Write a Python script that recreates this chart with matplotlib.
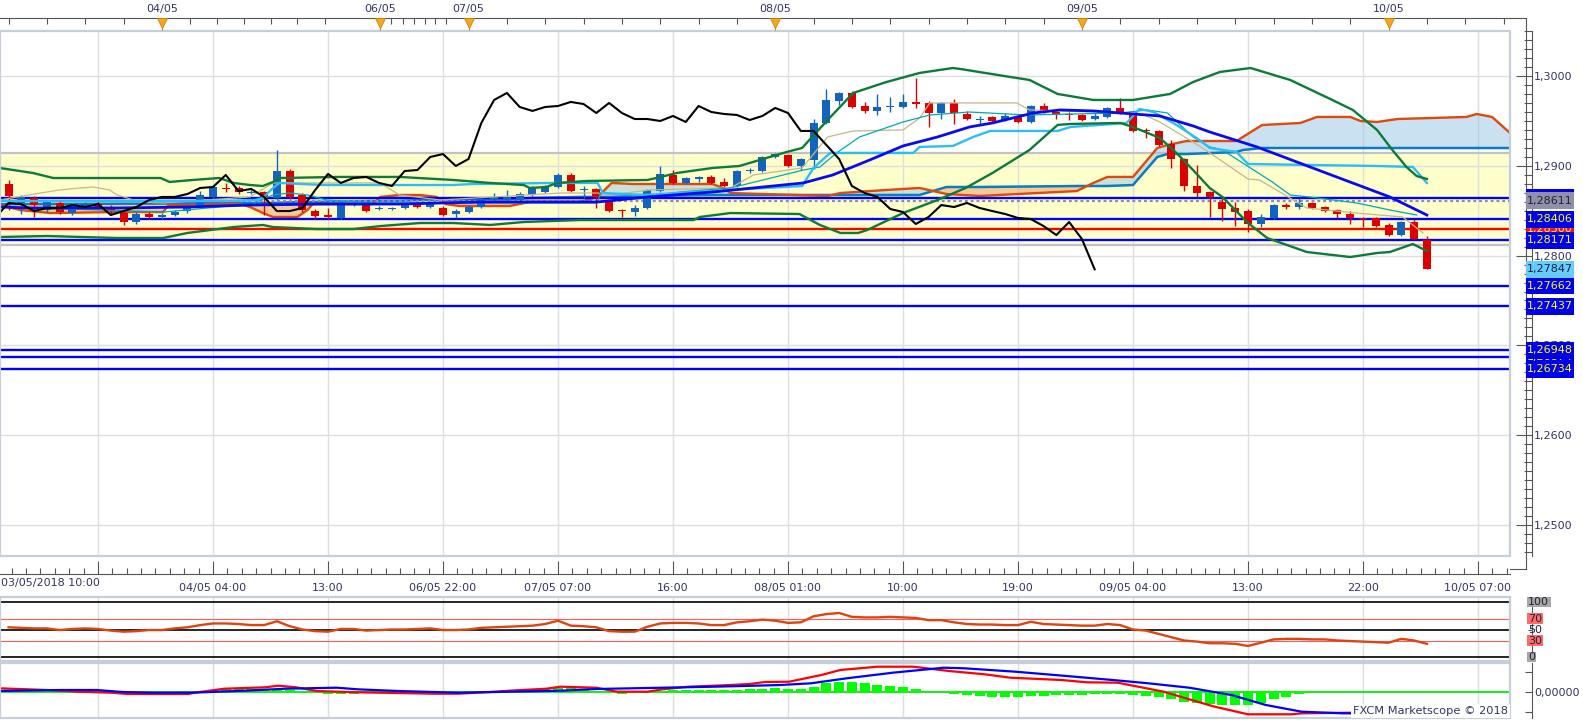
import numpy as np
import matplotlib
matplotlib.use("Agg")
import matplotlib.pyplot as plt
import matplotlib.transforms as mtransforms
from matplotlib.patches import Rectangle
from matplotlib.ticker import FixedLocator, FixedFormatter, MultipleLocator, FuncFormatter

plt.rcParams['font.family'] = ['DejaVu Sans']

# ---------------- data ----------------
bar_index = np.arange(-16, 96)          # hourly bars, 0 = 04/05 04:00

opens = np.array([
    1.28797, 1.28586, 1.28642, 1.28508, 1.28586, 1.28474, 1.28541, 1.28574, 1.28541, 1.28474,
    1.28374, 1.28463, 1.28430, 1.28452, 1.28496, 1.28552,
    1.28653, 1.28753, 1.28753, 1.28697, 1.28708, 1.28642, 1.28942, 1.28675, 1.28496, 1.28452,
    1.28419, 1.28563, 1.28563, 1.28519, 1.28519, 1.28530, 1.28574, 1.28541, 1.28530, 1.28463,
    1.28485, 1.28541, 1.28619, 1.28630, 1.28619, 1.28675, 1.28708, 1.28764, 1.28898, 1.28731,
    1.28742, 1.28608, 1.28508, 1.28485, 1.28530, 1.28719, 1.28898, 1.28809, 1.28853, 1.28876,
    1.28820, 1.28775, 1.28942, 1.28942, 1.29098, 1.29120, 1.28998, 1.29065, 1.29477, 1.29722,
    1.29811, 1.29666, 1.29611, 1.29655, 1.29655, 1.29711, 1.29700, 1.29588, 1.29700, 1.29577,
    1.29510, 1.29544, 1.29510, 1.29544, 1.29488, 1.29666, 1.29599, 1.29577, 1.29566, 1.29521,
    1.29544, 1.29644, 1.29566, 1.29399, 1.29388, 1.29243, 1.29076, 1.28775, 1.28708, 1.28597,
    1.28530, 1.28496, 1.28352, 1.28419, 1.28563, 1.28541, 1.28586, 1.28541, 1.28508, 1.28463,
    1.28419, 1.28419, 1.28341, 1.28229, 1.28374, 1.28174])
highs = np.array([
    1.28842, 1.28675, 1.28664, 1.28619, 1.28608, 1.28574, 1.28597, 1.28608, 1.28563, 1.28496,
    1.28485, 1.28485, 1.28474, 1.28508, 1.28574, 1.28719,
    1.28786, 1.28809, 1.28775, 1.28731, 1.28719, 1.29176, 1.28964, 1.28697, 1.28519, 1.28530,
    1.28608, 1.28597, 1.28586, 1.28552, 1.28541, 1.28586, 1.28597, 1.28597, 1.28552, 1.28519,
    1.28563, 1.28642, 1.28697, 1.28731, 1.28708, 1.28775, 1.28786, 1.28920, 1.28920, 1.28775,
    1.28753, 1.28630, 1.28519, 1.28563, 1.28742, 1.28998, 1.28953, 1.28876, 1.28886, 1.28898,
    1.28864, 1.28953, 1.28976, 1.29109, 1.29143, 1.29131, 1.29087, 1.29521, 1.29855, 1.29822,
    1.29833, 1.29711, 1.29800, 1.29766, 1.29800, 1.29978, 1.29722, 1.29711, 1.29744, 1.29611,
    1.29555, 1.29555, 1.29588, 1.29555, 1.29677, 1.29700, 1.29611, 1.29599, 1.29577, 1.29588,
    1.29655, 1.29755, 1.29577, 1.29421, 1.29399, 1.29288, 1.29087, 1.29009, 1.28719, 1.28664,
    1.28597, 1.28519, 1.28463, 1.28574, 1.28586, 1.28642, 1.28597, 1.28552, 1.28519, 1.28496,
    1.28430, 1.28430, 1.28363, 1.28385, 1.28407, 1.28218])
lows = np.array([
    1.28508, 1.28463, 1.28430, 1.28485, 1.28463, 1.28452, 1.28519, 1.28519, 1.28463, 1.28341,
    1.28352, 1.28407, 1.28407, 1.28441, 1.28474, 1.28530,
    1.28630, 1.28708, 1.28686, 1.28686, 1.28452, 1.28619, 1.28630, 1.28485, 1.28407, 1.28407,
    1.28407, 1.28552, 1.28485, 1.28508, 1.28508, 1.28519, 1.28530, 1.28530, 1.28441, 1.28419,
    1.28474, 1.28530, 1.28608, 1.28597, 1.28608, 1.28664, 1.28697, 1.28753, 1.28708, 1.28642,
    1.28530, 1.28485, 1.28430, 1.28441, 1.28519, 1.28708, 1.28797, 1.28797, 1.28820, 1.28797,
    1.28764, 1.28764, 1.28920, 1.28931, 1.29087, 1.28987, 1.28953, 1.28964, 1.29466, 1.29677,
    1.29644, 1.29588, 1.29566, 1.29599, 1.29644, 1.29644, 1.29432, 1.29521, 1.29466, 1.29510,
    1.29455, 1.29488, 1.29499, 1.29477, 1.29477, 1.29588, 1.29521, 1.29510, 1.29499, 1.29510,
    1.29533, 1.29577, 1.29377, 1.29310, 1.29221, 1.28976, 1.28719, 1.28653, 1.28430, 1.28385,
    1.28329, 1.28263, 1.28318, 1.28407, 1.28519, 1.28519, 1.28519, 1.28485, 1.28419, 1.28352,
    1.28318, 1.28318, 1.28218, 1.28218, 1.28174, 1.27847])
closes = np.array([
    1.28664, 1.28653, 1.28563, 1.28597, 1.28485, 1.28552, 1.28574, 1.28541, 1.28496, 1.28374,
    1.28463, 1.28430, 1.28452, 1.28485, 1.28552, 1.28675,
    1.28764, 1.28742, 1.28708, 1.28708, 1.28653, 1.28942, 1.28653, 1.28508, 1.28441, 1.28430,
    1.28586, 1.28574, 1.28496, 1.28530, 1.28530, 1.28563, 1.28541, 1.28574, 1.28452, 1.28496,
    1.28541, 1.28619, 1.28653, 1.28653, 1.28686, 1.28753, 1.28764, 1.28898, 1.28719, 1.28742,
    1.28653, 1.28496, 1.28496, 1.28530, 1.28731, 1.28909, 1.28809, 1.28864, 1.28876, 1.28809,
    1.28775, 1.28942, 1.28953, 1.29098, 1.29131, 1.28998, 1.29076, 1.29477, 1.29733, 1.29811,
    1.29655, 1.29611, 1.29655, 1.29666, 1.29711, 1.29688, 1.29588, 1.29700, 1.29588, 1.29521,
    1.29521, 1.29499, 1.29555, 1.29488, 1.29666, 1.29599, 1.29577, 1.29566, 1.29510, 1.29555,
    1.29644, 1.29588, 1.29388, 1.29388, 1.29232, 1.29076, 1.28775, 1.28697, 1.28653, 1.28519,
    1.28485, 1.28352, 1.28430, 1.28563, 1.28541, 1.28586, 1.28530, 1.28496, 1.28463, 1.28419,
    1.28407, 1.28329, 1.28229, 1.28374, 1.28185, 1.27847])
chikou_shift = 26

# Bollinger bands and middle average
bb_up_x = [-16.7, -14.1, -12.5, -4.1, -3.4, -1.6, 0.5, 1.6, 2.9, 3.9, 4.7, 5.2, 9.9, 14.6, 18.8, 21.7,
           24.3, 24.8, 26.1, 26.9, 29.3, 34.0, 34.7, 36.3, 39.1, 41.2, 44.9, 46.1, 48.1, 50.1, 52.7,
           55.3, 57.9, 58.5, 62.4, 63.9, 66.1, 68.9, 72.0, 74.9, 76.7, 78.8, 81.2, 84.3, 87.6, 89.2,
           91.1, 92.3, 93.4, 94.2, 95.0]
bb_up_y = [1.28976, 1.28920, 1.28864, 1.28864, 1.28820, 1.28842, 1.28864, 1.28809, 1.28786, 1.28775,
           1.28820, 1.28864, 1.28876, 1.28876, 1.28842, 1.28809, 1.28786, 1.28753, 1.28764, 1.28809,
           1.28831, 1.28842, 1.28864, 1.28920, 1.28976, 1.28998, 1.29154, 1.29198, 1.29510, 1.29811,
           1.29933, 1.30034, 1.30089, 1.30078, 1.29989, 1.29956, 1.29800, 1.29733, 1.29733, 1.29800,
           1.29933, 1.30045, 1.30089, 1.29956, 1.29733, 1.29622, 1.29399, 1.29176, 1.28987, 1.28886,
           1.28853]
bb_lo_x = [-16.7, -13.0, -7.5, -3.9, -2.0, 1.6, 3.9, 4.7, 8.1, 11.0, 13.1, 16.2, 18.8, 21.7, 24.3, 28.7,
           37.6, 38.1, 40.5, 45.9, 47.5, 49.1, 50.5, 51.2, 54.0, 56.7, 58.9, 61.0, 63.9, 66.1, 67.1,
           71.0, 72.0, 74.1, 75.4, 76.7, 78.0, 79.0, 81.0, 82.5, 85.6, 89.0, 91.1, 92.1, 93.9, 95.0]
bb_lo_y = [1.28207, 1.28218, 1.28196, 1.28196, 1.28252, 1.28318, 1.28341, 1.28318, 1.28296, 1.28296,
           1.28329, 1.28363, 1.28363, 1.28341, 1.28374, 1.28396, 1.28396, 1.28430, 1.28474, 1.28463,
           1.28341, 1.28252, 1.28252, 1.28285, 1.28474, 1.28619, 1.28753, 1.28920, 1.29176, 1.29455,
           1.29466, 1.29477, 1.29432, 1.29310, 1.29143, 1.28953, 1.28753, 1.28653, 1.28363, 1.28196,
           1.28040, 1.27984, 1.28029, 1.28040, 1.28129, 1.28051]
ma_x = [-16.7, -14.1, -7.5, -2.0, 2.9, 8.4, 14.6, 20.9, 30.1, 34.0, 39.1, 46.2, 48.5, 51.4, 54.0, 56.7,
        59.2, 61.0, 64.2, 66.3, 68.9, 71.0, 74.1, 76.7, 78.0, 81.7, 86.9, 92.1, 95.0]
ma_y = [1.28541, 1.28530, 1.28530, 1.28541, 1.28563, 1.28574, 1.28574, 1.28597, 1.28597, 1.28653,
        1.28708, 1.28809, 1.28898, 1.29065, 1.29221, 1.29321, 1.29432, 1.29477, 1.29588, 1.29622,
        1.29611, 1.29588, 1.29555, 1.29444, 1.29377, 1.29210, 1.28931, 1.28653, 1.28452]

# Ichimoku lines
kijun_x = [-16.7, 1.3, 3.3, 3.9, 4.7, 5.2, 8.6, 18.8, 20.3, 26.6, 30.1, 30.5, 33.7, 36.5, 40.5, 46.1,
           47.0, 48.3, 54.8, 55.3, 57.9, 59.5, 60.8, 66.1, 67.1, 71.5, 72.5, 73.6, 75.4, 77.2, 78.0,
           80.1, 81.0, 91.1, 93.9, 95.0]
kijun_y = [1.28608, 1.28608, 1.28619, 1.28642, 1.28753, 1.28809, 1.28786, 1.28786, 1.28797, 1.28809,
           1.28809, 1.28697, 1.28675, 1.28697, 1.28731, 1.28775, 1.28976, 1.29143, 1.29143, 1.29210,
           1.29221, 1.29321, 1.29388, 1.29388, 1.29432, 1.29477, 1.29633, 1.29599, 1.29455, 1.29288,
           1.29198, 1.29154, 1.29020, 1.28998, 1.28987, 1.28809]
tenkan_x = [-16.7, -8.8, -3.9, 1.3, 2.9, 3.7, 4.7, 6.0, 7.4, 8.9, 12.5, 20.9, 30.1, 30.3, 34.0, 36.5,
            40.5, 46.2, 47.5, 48.8, 50.6, 54.0, 56.1, 59.2, 63.7, 71.0, 73.1, 74.7, 76.7, 78.0, 79.0,
            82.9, 84.3, 85.8, 89.5, 92.1, 94.2]
tenkan_y = [1.28541, 1.28508, 1.28485, 1.28552, 1.28563, 1.28619, 1.28675, 1.28697, 1.28675, 1.28619,
            1.28586, 1.28586, 1.28586, 1.28697, 1.28664, 1.28708, 1.28753, 1.28953, 1.28987, 1.29143,
            1.29321, 1.29488, 1.29566, 1.29599, 1.29566, 1.29588, 1.29622, 1.29588, 1.29321, 1.29210,
            1.29176, 1.28820, 1.28675, 1.28653, 1.28586, 1.28508, 1.28452]
tan_x = [-16.7, -13.5, -12.0, -10.4, -9.4, -8.1, -7.5, -5.7, -3.9, 2.9, 4.7, 13.1, 14.6, 17.8, 27.2,
         30.1, 31.1, 34.2, 40.5, 42.3, 46.1, 48.1, 50.1, 54.0, 55.3, 56.1, 62.9, 63.9, 71.5, 72.9,
         74.1, 76.7, 78.6, 81.0, 81.9, 85.6, 89.5, 93.1, 94.7]
tan_y = [1.28619, 1.28697, 1.28731, 1.28753, 1.28764, 1.28731, 1.28675, 1.28597, 1.28586, 1.28653,
         1.28809, 1.28809, 1.28675, 1.28619, 1.28697, 1.28697, 1.28675, 1.28731, 1.28753, 1.28898,
         1.28976, 1.29321, 1.29388, 1.29399, 1.29532, 1.29700, 1.29700, 1.29622, 1.29588, 1.29566,
         1.29488, 1.29265, 1.29087, 1.28853, 1.28842, 1.28530, 1.28474, 1.28430, 1.28252]
cloud_x = np.array([-16.7, -15.1, -12.7, -7.5, -3.9, -3.5, 2.1, 2.9, 3.9, 4.7, 6.6, 7.4, 7.8, 12.5,
                    13.1, 14.6, 16.2, 17.5, 18.2, 19.3, 23.2, 24.8, 28.7, 30.1, 31.2, 32.9, 39.1,
                    39.9, 40.5, 48.1, 49.1, 52.7, 55.3, 57.4, 60.0, 67.6, 68.9, 70.0, 72.0, 73.9,
                    74.7, 76.2, 80.1, 80.6, 82.1, 85.1, 86.4, 89.0, 89.8, 91.1, 92.7, 98.1, 98.9,
                    100.1, 101.5])
span_a = np.array([1.28563, 1.28508, 1.28474, 1.28485, 1.28485, 1.28563, 1.28574, 1.28541, 1.28474,
                   1.28430, 1.28430, 1.28508, 1.28574, 1.28574, 1.28653, 1.28675, 1.28675, 1.28653,
                   1.28574, 1.28552, 1.28552, 1.28597, 1.28597, 1.28653, 1.28809, 1.28797, 1.28797,
                   1.28753, 1.28697, 1.28664, 1.28697, 1.28731, 1.28753, 1.28686, 1.28664, 1.28719,
                   1.28809, 1.28876, 1.28876, 1.29198, 1.29232, 1.29276, 1.29276, 1.29321, 1.29454,
                   1.29477, 1.29544, 1.29544, 1.29499, 1.29488, 1.29521, 1.29544, 1.29577, 1.29544,
                   1.29366])
span_b = np.array([1.28574, 1.28574, 1.28575, 1.28578, 1.28580, 1.28580, 1.28586, 1.28586, 1.28586,
                   1.28586, 1.28597, 1.28597, 1.28597, 1.28608, 1.28608, 1.28608, 1.28619, 1.28619,
                   1.28619, 1.28619, 1.28630, 1.28642, 1.28653, 1.28653, 1.28653, 1.28664, 1.28675,
                   1.28675, 1.28675, 1.28675, 1.28675, 1.28675, 1.28675, 1.28764, 1.28764, 1.28775,
                   1.28775, 1.28775, 1.28786, 1.29098, 1.29131, 1.29131, 1.29154, 1.29176, 1.29198,
                   1.29198, 1.29198, 1.29198, 1.29198, 1.29198, 1.29198, 1.29198, 1.29198, 1.29198,
                   1.29198])

# horizontal levels
zone_low, zone_high = 1.28115, 1.29142
blue_levels = [1.28645, 1.28406, 1.28171, 1.27662, 1.27437, 1.26948, 1.26874, 1.26734]
red_level = 1.28300
pivot_level = 1.28611

# RSI (one value per bar)
rsi = [54, 53, 52, 52, 49, 51, 52, 51, 48, 46, 47, 49, 49, 52, 54, 58,
       61, 61, 60, 58, 58, 65, 56, 50, 47, 46, 51, 51, 48, 49, 50, 50, 51, 52, 49, 49,
       50, 53, 54, 55, 56, 57, 60, 66, 57, 56, 54, 47, 46, 46, 55, 61, 62, 62, 61, 58,
       58, 63, 65, 68, 66, 62, 63, 74, 78, 80, 73, 72, 72, 73, 72, 71, 67, 67, 63, 60,
       59, 59, 58, 58, 64, 60, 59, 58, 57, 57, 60, 58, 50, 48, 42, 36, 30, 28, 25, 25,
       24, 20, 26, 32, 33, 33, 32, 32, 30, 29, 28, 27, 26, 33, 30, 24]

# MACD
macd_x = [-16.7, -13.0, -10.6, -7.9, -6.7, -1.9, -1.5, 0.9, 4.1, 5.1, 6.5, 8.1, 11.3, 17.3, 19.2, 22.1,
          23.2, 26.1, 27.2, 30.0, 31.6, 34.0, 35.2, 37.2, 40.0, 42.0, 43.2, 45.1, 47.6, 49.1, 52.0,
          54.8, 57.6, 60.4, 62.4, 66.4, 68.4, 70.8, 72.4, 74.4, 76.4, 78.4, 81.0, 84.4, 85.2, 89.2, 95.0]
macd_v = [0.00040, 0.00023, 0.00006, -0.00004, -0.00017, -0.00017, -0.00005, 0.00036, 0.00050,
          0.00066, 0.00050, 0.00013, 0.00000, -0.00014, -0.00014, 0.00006, 0.00016, 0.00036, 0.00056,
          0.00046, 0.00006, 0.00006, 0.00030, 0.00056, 0.00070, 0.00083, 0.00103, 0.00106, 0.00173,
          0.00223, 0.00256, 0.00256, 0.00213, 0.00180, 0.00146, 0.00123, 0.00100, 0.00096, 0.00056,
          0.00006, -0.00070, -0.00144, -0.00220, -0.00220, -0.00210, -0.00204, -0.00206]
signal_x = [-16.7, -11.9, -9.1, -7.1, -4.7, -1.5, 2.5, 5.7, 9.7, 11.3, 14.5, 19.2, 23.2, 27.2, 30.0,
            35.2, 39.2, 42.4, 44.4, 46.8, 49.6, 53.2, 57.2, 58.8, 62.8, 66.8, 70.4, 73.2, 76.4, 79.7,
            82.4, 85.2, 88.4, 95.0]
signal_v = [0.00013, 0.00023, 0.00023, 0.00003, -0.00004, -0.00003, 0.00016, 0.00036, 0.00046,
            0.00030, 0.00013, -0.00004, 0.00006, 0.00016, 0.00033, 0.00046, 0.00056, 0.00066, 0.00073,
            0.00090, 0.00140, 0.00196, 0.00246, 0.00240, 0.00206, 0.00163, 0.00123, 0.00090, 0.00046,
            -0.00027, -0.00127, -0.00194, -0.00210, -0.00213]
hist = np.array([1.5, 1, 0.5, 0.3, 0, -0.3, -0.5, -1, -1, -0.8, -0.8, -0.6, -0.5, -0.3, 0.8, 1.5,
                 2.5, 4, 3, 3.3, 3.3, 3.5, 2.5, 1, -1, -1.7, -2, -1.5, -1, -0.8, -0.5, -0.3, 0,
                 -0.3, -0.5, -0.3, 0, 0.3, 0.6, 0.9, 1.5, 2.2, 3, 4, 4.7, 2.5, 1, -1, -1.3, -1, 0,
                 1.5, 2, 2, 2.2, 2.3, 2.5, 2.5, 3, 3.5, 4.7, 3, 3.7, 5.7, 9, 10.7, 10, 9, 7.3, 6.7,
                 5.7, 3, 1.3, 0, -1.7, -2.7, -3.3, -4.3, -4.3, -4.3, -3.3, -3.3, -2.7, -2.7, -2.7,
                 -2, -1.7, -2, -2.7, -3.7, -4.3, -6.7, -9.3, -11, -12, -12.7, -12.7, -12.7, -11, -7,
                 -5, -2, -0.5, 0.3, 0.7, 0.7, 0.7, 0.7, 0.3, 0.7, 0.3, -1]) * 1e-4

# time axis
time_labels = ['', '04/05 04:00', '13:00', '06/05 22:00', '07/05 07:00', '16:00', '08/05 01:00',
               '10:00', '19:00', '09/05 04:00', '13:00', '22:00', '10/05 07:00']
first_time_label = '03/05/2018 10:00'
day_labels = ['04/05', '06/05', '07/05', '08/05', '09/05', '10/05']
day_pos = [-4, 13.1, 20, 44, 68, 92]

# ---------------- layout ----------------
W, H, DPI = 1583, 720, 100
fig = plt.figure(figsize=(W / DPI, H / DPI), dpi=DPI)
fig.patch.set_facecolor('white')

PPB = 115 / 9.0
XMIN = -213 / PPB
XMAX = XMIN + 1510 / PPB
major_pos = [-9 + 9 * k for k in range(len(time_labels))]
TXT = '#333366'
AXC = '#555555'
BORDER = '#C6CED9'
GRID = '#DEDEDE'


def add_ax(x0, y0, x1, y1, **kw):
    return fig.add_axes([x0 / W, 1 - y1 / H, (x1 - x0) / W, (y1 - y0) / H], **kw)


def framed(a):
    for s in a.spines.values():
        s.set_visible(False)
    a.add_patch(Rectangle((0, 0), 1, 1, transform=a.transAxes, fill=False, ec=BORDER,
                          lw=1.6, clip_on=False, zorder=9))
    a.set_xlim(XMIN, XMAX)
    for p in major_pos:
        a.axvline(p, color=GRID, lw=1, zorder=0.6)


# ---- main price panel ----
ax = add_ax(0, 31, 1510, 556)
framed(ax)
ax.set_ylim(1.246548, 1.305011)
for v in np.arange(1.25, 1.3001, 0.01):
    ax.axhline(v, color=GRID, lw=1, zorder=0.6)

ax.axhspan(zone_low, zone_high, fc='#FFFFCC', ec='none', zorder=0.5)
ax.axhline(zone_high, color='#C2C2C2', lw=1.6, zorder=0.7)
ax.axhline(zone_low, color='#C2C2C2', lw=1.6, zorder=0.7)

ax.fill_between(cloud_x, span_a, span_b, where=span_a >= span_b, interpolate=True,
                color='#96C4E4', alpha=0.5, lw=0, zorder=1)
ax.fill_between(cloud_x, span_a, span_b, where=span_a < span_b, interpolate=True,
                color='#EB9664', alpha=0.5, lw=0, zorder=1)
ax.plot(cloud_x, span_b, color='#0A7CC0', lw=1.8, zorder=2)
ax.plot(cloud_x, span_a, color='#E0480C', lw=1.7, zorder=2.1)

for lv in blue_levels:
    ax.axhline(lv, color='#0000FF', lw=1.7, zorder=2.6)
ax.axhline(red_level, color='#FF0000', lw=1.7, zorder=2.6)
ax.axhline(pivot_level, color='#8C8CB0', lw=1.6, ls=(0, (1.3, 1.3)), zorder=2.6)

up = closes >= opens
ccol = np.where(up, '#1464BE', '#DC0000')
body_lo = np.minimum(opens, closes)
body_h = np.maximum(np.abs(closes - opens), 0.00016)
ax.vlines(bar_index, lows, highs, colors=ccol, lw=1.0, zorder=2.9)
ax.bar(bar_index, body_h, bottom=body_lo, width=0.62, color=ccol, lw=0, zorder=3)

ax.plot(tan_x, tan_y, color='#C4B886', lw=0.9, zorder=4)
ax.plot(tenkan_x, tenkan_y, color='#00A8B8', lw=0.9, zorder=4)
ax.plot(kijun_x, kijun_y, color='#2CBDF5', lw=1.7, zorder=4.1)
ax.plot(ma_x, ma_y, color='#0A0AF0', lw=2.0, zorder=4.2)
ax.plot(bb_up_x, bb_up_y, color='#0E7A3A', lw=1.7, zorder=4.3)
ax.plot(bb_lo_x, bb_lo_y, color='#0E7A3A', lw=1.7, zorder=4.3)
ax.plot(bar_index - chikou_shift, closes, color='black', lw=1.5, zorder=4.6)

ax.spines['right'].set_visible(True)
ax.spines['right'].set_position(('outward', 16))
ax.spines['right'].set_color(AXC)
ax.spines['right'].set_linewidth(0.8)
ax.spines['bottom'].set_visible(True)
ax.spines['bottom'].set_position(('outward', 13))
ax.spines['bottom'].set_color(AXC)
ax.spines['bottom'].set_linewidth(0.8)
ax.yaxis.tick_right()
ax.yaxis.set_major_locator(MultipleLocator(0.01))
ax.yaxis.set_minor_locator(MultipleLocator(0.001))
ax.yaxis.set_major_formatter(FuncFormatter(lambda v, p: f"{v:.4f}".replace('.', ',')))
ax.tick_params(axis='y', which='major', direction='in', length=11.5, width=0.8, color=AXC,
               labelsize=8, labelcolor=TXT, pad=1.5)
ax.tick_params(axis='y', which='minor', direction='in', length=5.5, width=0.8, color=AXC)
ax.xaxis.set_major_locator(FixedLocator(major_pos))
ax.xaxis.set_major_formatter(FixedFormatter(time_labels))
minor_x = [p for p in np.arange(-18, 102, 9 / 8) if min(abs(p - m) for m in major_pos) > 0.1]
ax.xaxis.set_minor_locator(FixedLocator(minor_x))
ax.tick_params(axis='x', which='major', direction='in', length=9.4, width=0.8, color=AXC,
               labelsize=8, labelcolor=TXT, pad=6.5)
ax.tick_params(axis='x', which='minor', direction='in', length=4.3, width=0.8, color=AXC)

# ---- top date strip ----
axt = add_ax(0, 0, 1526, 31)
axt.set_xlim(XMIN, XMIN + 1526 / PPB)
axt.set_ylim(31, 0)
axt.axis('off')
axt.axhline(18, color=AXC, lw=0.8)
top_ticks = [-16, -13, -10, -7, -1.8, 0.3, 2.4, 4.5, 6.6, 8.8, 13.9, 14.9, 15.7, 16.6, 17.4, 18.2] + \
    [t for t in range(23, 102, 3) if t not in day_pos]
axt.vlines(top_ticks, 18, 24, color=AXC, lw=0.8)
axt.vlines(day_pos, 18, 30, color='#D08000', lw=0.8)
axt.plot(day_pos, [22.5] * len(day_pos), ls='none', marker='v', ms=6.5,
         mfc='#F5A623', mec='#D08000', mew=0.6)
for p, lab in zip(day_pos, day_labels):
    axt.text(p, 9, lab, ha='center', va='center', fontsize=8, color=TXT)

# ---- RSI panel ----
axr = add_ax(0, 597, 1510, 661)
framed(axr)
axr.set_ylim(-7.27, 109.09)
for v, c, w in [(100, 'black', 1.2), (70, '#FF5A5A', 0.8), (50, 'black', 1.2),
                (30, '#FF5A5A', 0.8), (0, 'black', 1.2)]:
    axr.axhline(v, color=c, lw=w, zorder=1)
axr.plot(bar_index, rsi, color='#DD4411', lw=1.7, zorder=3)
axr.set_xticks([])
axr.spines['right'].set_visible(True)
axr.spines['right'].set_position(('outward', 16))
axr.spines['right'].set_color(AXC)
axr.spines['right'].set_linewidth(0.8)
axr.yaxis.tick_right()
axr.set_yticks([0, 50, 100])
axr.set_yticklabels([])
axr.tick_params(axis='y', direction='in', length=3, width=0.8, color=AXC)

# ---- MACD panel ----
axm = add_ax(0, 663, 1510, 718)
framed(axm)
axm.set_ylim(-0.00257, 0.00293)
axm.axhline(0, color='#00EE00', lw=1.3, zorder=1)
axm.bar(bar_index, hist, width=0.78, color='#00FF00', lw=0, zorder=2)
axm.plot(macd_x, macd_v, color='#FF0000', lw=1.6, zorder=3)
axm.plot(signal_x, signal_v, color='#0000FF', lw=1.6, zorder=3.5)
axm.set_xticks([])
axm.spines['right'].set_visible(True)
axm.spines['right'].set_position(('outward', 16))
axm.spines['right'].set_color(AXC)
axm.spines['right'].set_linewidth(0.8)
axm.yaxis.tick_right()
axm.yaxis.set_major_locator(FixedLocator([-0.002, 0.0, 0.002]))
axm.yaxis.set_major_formatter(FixedFormatter(['', '0,00000', '']))
axm.tick_params(axis='y', direction='in', length=5, width=0.8, color=AXC,
                labelsize=8, labelcolor=TXT, pad=1.5)

# ---- overlay: axis lines, value boxes, captions ----
ov = fig.add_axes([0, 0, 1, 1], zorder=10)
ov.set_xlim(0, W)
ov.set_ylim(H, 0)
ov.axis('off')
ov.plot([1526, 1526], [18, 569], color=AXC, lw=0.8)
ov.plot([1510, 1526], [569, 569], color=AXC, lw=0.8)
ov.text(1, 583, first_time_label, ha='left', va='center', fontsize=8, color=TXT)

trm = mtransforms.blended_transform_factory(ov.transData, ax.transData)
hh = 8.5 / 8980.0
zc = [20]


def price_box(level, fc, tc):
    zc[0] += 2
    ov.add_patch(Rectangle((1526, level - hh), 48, 2 * hh, transform=trm, fc=fc, ec='none',
                           zorder=zc[0], clip_on=False))
    ov.text(1550, level, f"{level:.5f}".replace('.', ','), transform=trm, ha='center',
            va='center', fontsize=8, color=tc, zorder=zc[0] + 1, clip_on=False)


price_box(red_level, '#FF1010', '#FFFF60')
price_box(blue_levels[6], '#0000EE', '#FFFF00')
price_box(blue_levels[0], '#0000EE', '#FFFF00')
for lv in [blue_levels[1], blue_levels[2], blue_levels[3], blue_levels[4], blue_levels[5],
           blue_levels[7]]:
    price_box(lv, '#0000EE', '#FFFF00')
price_box(pivot_level, '#9090A8', '#202040')
price_box(closes[-1], '#66CCFF', '#202040')

trr = mtransforms.blended_transform_factory(ov.transData, axr.transData)
for v, fc in [(100, '#A6A6A6'), (70, '#FF6B6B'), (50, None), (30, '#FF6B6B'), (0, '#A6A6A6')]:
    lab = str(v)
    if fc is not None:
        ov.add_patch(Rectangle((1527, v - 9.5), 7.2 * len(lab) + 2, 19, transform=trr, fc=fc,
                               ec='none', zorder=40, clip_on=False))
    ov.text(1528, v, lab, transform=trr, ha='left', va='center', fontsize=8, color='#222233',
            zorder=41, clip_on=False)

ov.text(1508, 711, 'FXCM Marketscope \u00a9 2018', ha='right', va='center', fontsize=8.2,
        color=TXT, zorder=42, bbox=dict(fc='white', ec='none', pad=1.2))

fig.savefig('out.png', dpi=DPI, facecolor='white')
